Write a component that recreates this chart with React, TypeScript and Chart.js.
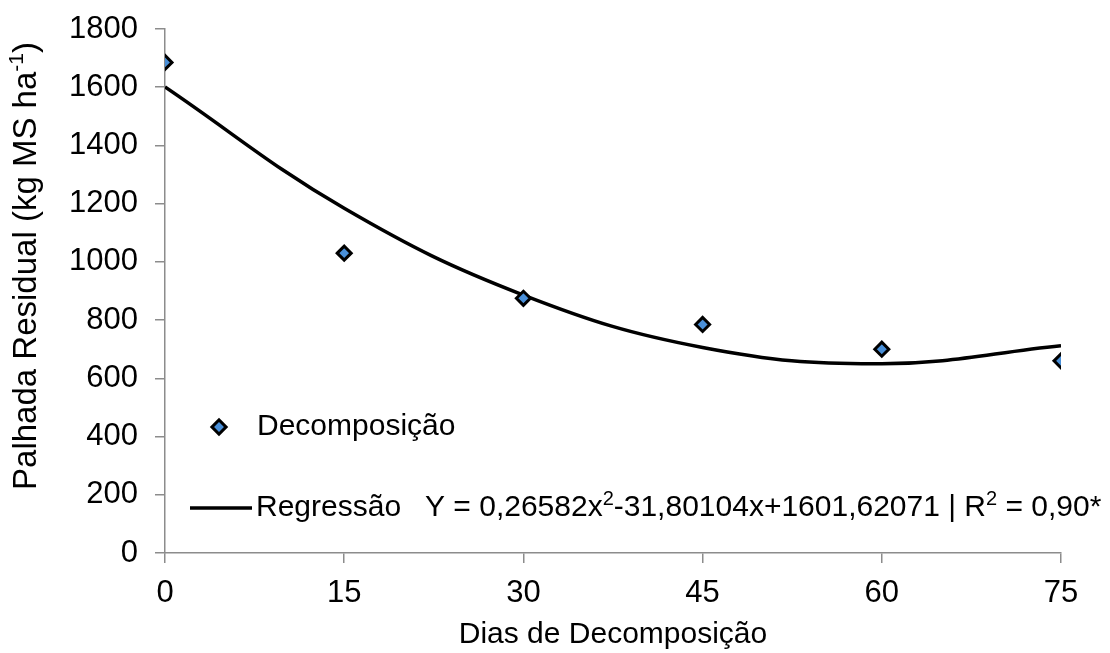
import React, { useEffect, useRef } from "react";
import { Chart, registerables } from "chart.js";

Chart.register(...registerables);

const days = [0, 15, 30, 45, 60, 75];
const observed = [1685, 1030, 875, 785, 700, 660];
const fittedX = [0, 15, 30, 45, 60, 75];
const fittedY = [1601, 1184, 886, 706, 650, 712];
const yTicks = [0, 200, 400, 600, 800, 1000, 1200, 1400, 1600, 1800];
const xTicks = [0, 15, 30, 45, 60, 75];

const seriesObsLabel = "Decomposição";
const seriesFitLabel = "Regressão";
const xTitle = "Dias de Decomposição";
const FONT = "'Liberation Sans', Arial, sans-serif";

type Part = { t: string; sup?: boolean };

function drawRich(ctx: CanvasRenderingContext2D, parts: Part[], x: number, y: number, size: number) {
  let cx = x;
  ctx.textAlign = "left";
  ctx.textBaseline = "middle";
  for (const p of parts) {
    if (p.sup) {
      ctx.font = `${Math.round(size * 0.65)}px ${FONT}`;
      ctx.fillText(p.t, cx, y - size * 0.3);
    } else {
      ctx.font = `${size}px ${FONT}`;
      ctx.fillText(p.t, cx, y);
    }
    cx += ctx.measureText(p.t).width;
  }
  return cx - x;
}

function measureRich(ctx: CanvasRenderingContext2D, parts: Part[], size: number) {
  let w = 0;
  for (const p of parts) {
    ctx.font = p.sup ? `${Math.round(size * 0.65)}px ${FONT}` : `${size}px ${FONT}`;
    w += ctx.measureText(p.t).width;
  }
  return w;
}

const overlay = {
  id: "overlay",
  afterDraw(chart: any) {
    const ctx: CanvasRenderingContext2D = chart.ctx;
    const area = chart.chartArea;
    ctx.save();
    ctx.fillStyle = "#000";
    // x title
    ctx.font = `30px ${FONT}`;
    ctx.textAlign = "center";
    ctx.textBaseline = "middle";
    ctx.fillText(xTitle, (area.left + area.right) / 2, 635);
    // y title (rotated)
    const yParts: Part[] = [
      { t: "Palhada Residual (kg MS ha" },
      { t: "-1", sup: true },
      { t: ")" },
    ];
    const w = measureRich(ctx, yParts, 33);
    ctx.save();
    ctx.translate(27, 266);
    ctx.rotate(-Math.PI / 2);
    drawRich(ctx, yParts, -w / 2, 0, 33);
    ctx.restore();

    // legend: observed
    ctx.save();
    ctx.translate(219, 427);
    ctx.rotate(Math.PI / 4);
    ctx.fillStyle = "#4A90D9";
    ctx.strokeStyle = "#000";
    ctx.lineWidth = 3;
    ctx.fillRect(-5, -5, 10, 10);
    ctx.strokeRect(-5, -5, 10, 10);
    ctx.restore();
    ctx.fillStyle = "#000";
    drawRich(ctx, [{ t: seriesObsLabel }], 257, 427, 30);

    // legend: regression
    ctx.strokeStyle = "#000";
    ctx.lineWidth = 3.5;
    ctx.beginPath();
    ctx.moveTo(190, 508);
    ctx.lineTo(252, 508);
    ctx.stroke();
    drawRich(ctx, [{ t: seriesFitLabel }], 256, 508, 30);
    const eq: Part[] = [
      { t: "Y = 0,26582x" },
      { t: "2", sup: true },
      { t: "-31,80104x+1601,62071 | R" },
      { t: "2", sup: true },
      { t: " = 0,90*" },
    ];
    drawRich(ctx, eq, 425, 508, 30);
    ctx.restore();
  },
};

export default function App() {
  const ref = useRef<HTMLCanvasElement>(null);
  useEffect(() => {
    if (!ref.current) return;
    const axisColor = "#8c8c8c";
    const chart = new Chart(ref.current, {
      type: "scatter",
      data: {
        datasets: [
          {
            label: seriesObsLabel,
            data: days.map((d, i) => ({ x: d, y: observed[i] })),
            pointStyle: "rectRot",
            pointRadius: 7,
            pointBorderWidth: 3,
            pointBackgroundColor: "#4A90D9",
            pointBorderColor: "#000",
            showLine: false,
          },
          {
            label: seriesFitLabel,
            data: fittedX.map((d, i) => ({ x: d, y: fittedY[i] })),
            showLine: true,
            pointRadius: 0,
            borderColor: "#000",
            borderWidth: 3.5,
            tension: 0.4,
          },
        ],
      },
      options: {
        responsive: false,
        animation: false,
        devicePixelRatio: 1,
        layout: { padding: { top: 29, right: 49, left: 0, bottom: 0 } },
        plugins: { legend: { display: false }, tooltip: { enabled: false } },
        scales: {
          x: {
            type: "linear",
            min: 0,
            max: 75,
            afterBuildTicks: (s: any) => {
              s.ticks = xTicks.map((v) => ({ value: v }));
            },
            afterFit: (s: any) => {
              s.height = 100;
              s.paddingLeft = 0;
              s.paddingRight = 0;
            },
            ticks: {
              color: "#000",
              font: { size: 31, family: FONT },
              padding: 12,
              callback: (v: any) => String(v),
            },
            grid: { drawOnChartArea: false, drawTicks: true, tickLength: 10, color: axisColor, lineWidth: 1.5 },
            border: { color: axisColor, width: 1.5 },
          },
          y: {
            type: "linear",
            min: 0,
            max: 1800,
            afterBuildTicks: (s: any) => {
              s.ticks = yTicks.map((v) => ({ value: v }));
            },
            afterFit: (s: any) => {
              s.width = 165;
              s.paddingTop = 0;
              s.paddingBottom = 0;
            },
            ticks: {
              color: "#000",
              font: { size: 31, family: FONT },
              padding: 17,
              callback: (v: any) => String(v),
            },
            grid: { drawOnChartArea: false, drawTicks: true, tickLength: 10, color: axisColor, lineWidth: 1.5 },
            border: { color: axisColor, width: 1.5 },
          },
        },
      },
      plugins: [overlay],
    });
    return () => chart.destroy();
  }, []);
  return (
    <div style={{ position: "absolute", left: 0, top: 0, width: 1110, height: 653, background: "#fff" }}>
      <canvas ref={ref} width={1110} height={653} style={{ display: "block" }} />
    </div>
  );
}
